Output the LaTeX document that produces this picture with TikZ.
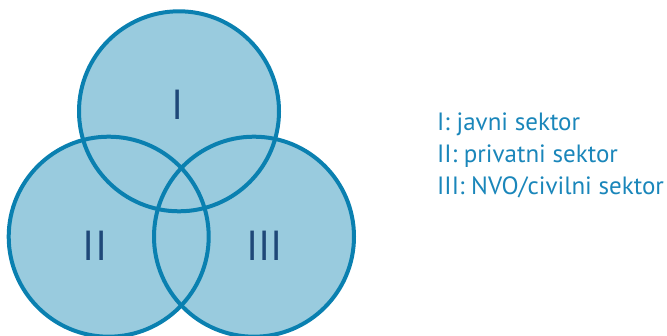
\documentclass[tikz,border=0pt]{standalone}
\usepackage{fontspec}
\setmainfont{PT Sans}
\definecolor{setfill}{HTML}{99CBDE}
\definecolor{setline}{HTML}{0A80B0}
\definecolor{numeral}{HTML}{1F4878}
\definecolor{legendtext}{HTML}{1A86BA}
\tikzset{
  setcircle/.style={circle, minimum size=200pt, inner sep=0pt, outer sep=0pt},
  numlabel/.style={text=numeral, font=\fontsize{42}{42}\selectfont, inner sep=0pt, anchor=base},
  legendline/.style={text=legendtext, font=\fontsize{25}{25}\selectfont, inner sep=0pt, anchor=base west}
}
\begin{document}
\begin{tikzpicture}[x=1pt, y=-1pt]
  \useasboundingbox (0,0) rectangle (667,336);
  \begin{scope}
    \clip (0,0) rectangle (667,336);
    % the three sectors, filled first so every overlap keeps one tint
    \node[setcircle, fill=setfill] (c1) at (179,111.3) {};
    \node[setcircle, fill=setfill] (c2) at (108.7,236.7) {};
    \node[setcircle, fill=setfill] (c3) at (254,236.7) {};
    % outlines on top
    \foreach \c in {c1,c2,c3}
      \draw[setline, line width=4pt] (\c) circle[radius=100pt];
  \end{scope}
  % numerals
  \node[numlabel] (n1) at (178,120) {I};
  \node[numlabel] (n2) at (95,261) {II};
  \node[numlabel] (n3) at (264.5,261) {III};
  % legend
  \node[legendline] (l1) at (437,131) {I: javni sektor};
  \node[legendline] (l2) at (437,163) {II: privatni sektor};
  \node[legendline] (l3) at (437,195) {III: NVO/civilni sektor};
\end{tikzpicture}
\end{document}
